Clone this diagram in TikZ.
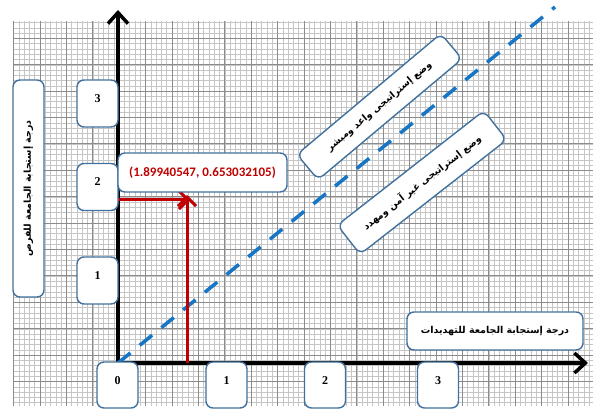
\documentclass[tikz,border=0pt]{standalone}
\usepackage{fontspec}
\setmainfont{Liberation Serif}
\newfontfamily\arabicfont[Script=Arabic]{DejaVu Sans}
\newfontfamily\calfont{Carlito}
\TeXXeTstate=1
\usetikzlibrary{arrows.meta}
\definecolor{boxblue}{RGB}{65,113,156}
\definecolor{gridminor}{RGB}{198,198,198}
\definecolor{gridmajor}{RGB}{140,140,140}
\definecolor{markred}{RGB}{192,0,0}
\definecolor{dashblue}{RGB}{22,117,197}

\tikzset{
  roundbox/.style={draw=boxblue,line width=1.4pt,fill=white,rounded corners=7pt,inner sep=0pt},
  tickbox/.style={roundbox,minimum width=41pt,minimum height=47pt,text height=8pt,text depth=10pt,font=\bfseries\fontsize{12}{12}\selectfont},
  titlebox/.style={roundbox,font=\arabicfont\bfseries\fontsize{9.5}{9.5}\selectfont},
  axisline/.style={line width=3.5pt,{Straight Barb[length=11pt,width=20pt]}-{Straight Barb[length=11pt,width=20pt]}},
  markline/.style={markred,line width=3pt,-{Straight Barb[length=9pt,width=18pt]}},
}

\begin{document}
\begin{tikzpicture}[x=1pt,y=1pt]
\useasboundingbox (0,0) rectangle (593,409);
% graph paper
\begin{scope}
\clip (13,4) rectangle (593,387);
\draw[gridminor,line width=0.55pt,step=5.28,shift={(13.6,1)}] (-10,-10) grid (600,400);
\draw[gridmajor,line width=1pt,step=26.4,shift={(13.6,1)}] (-30,-30) grid (600,400);
\end{scope}

% axes
\coordinate (O) at (118,46);
\coordinate (ytop) at (118,399);
\coordinate (xend) at (588,46);
\draw[axisline] (ytop) -- (O) -- (xend);

% diagonal
\coordinate (diagend) at (555,402);
\draw[dashblue,line width=3.5pt,dash pattern=on 16pt off 12pt] (O) -- (diagend);

% point read off
\coordinate (ymark) at (118,209);
\coordinate (xmark) at (187,46);
\coordinate (hend) at (190,209);
\coordinate (vend) at (187,214);
\draw[markline] (ymark) -- (hend);
\draw[markline] (xmark) -- (vend);

% tick boxes
\node[tickbox] (y3) at (97.5,305.5) {3};
\node[tickbox] (y2) at (97.5,222) {2};
\node[tickbox] (y1) at (97.5,128.5) {1};
\node[tickbox,minimum height=46pt] (x0) at (117.5,24) {0};
\node[tickbox,minimum height=46pt] (x1) at (226.5,24) {1};
\node[tickbox,minimum height=46pt] (x2) at (325,24) {2};
\node[tickbox,minimum height=46pt] (x3) at (438,24) {3};

% titles
\node[titlebox,rotate=90,minimum width=217pt,minimum height=31pt] (ytitle) at (28.5,220.5) {\beginR درجة إستجابة الجامعة للفرص\endR};
\node[titlebox,minimum width=176pt,minimum height=38pt] (xtitle) at (495,78) {\beginR درجة إستجابة الجامعة للتهديدات\endR};
\node[roundbox,minimum width=169pt,minimum height=39pt,text=markred,font=\calfont\bfseries\fontsize{13}{13}\selectfont] (ptlabel) at (202.5,236.5) {(1.89940547, 0.653032105)};

% zones
\node[titlebox,rotate=40,minimum width=188pt,minimum height=33pt] (good) at (379.5,302.3) {\beginR وضع إستراتيجى واعد ومبشر\endR};
\node[titlebox,rotate=38,minimum width=186pt,minimum height=37pt] (bad) at (422,226.5) {\beginR وضع إستراتيجى غير آمن ومهدد\endR};
\end{tikzpicture}
\end{document}
